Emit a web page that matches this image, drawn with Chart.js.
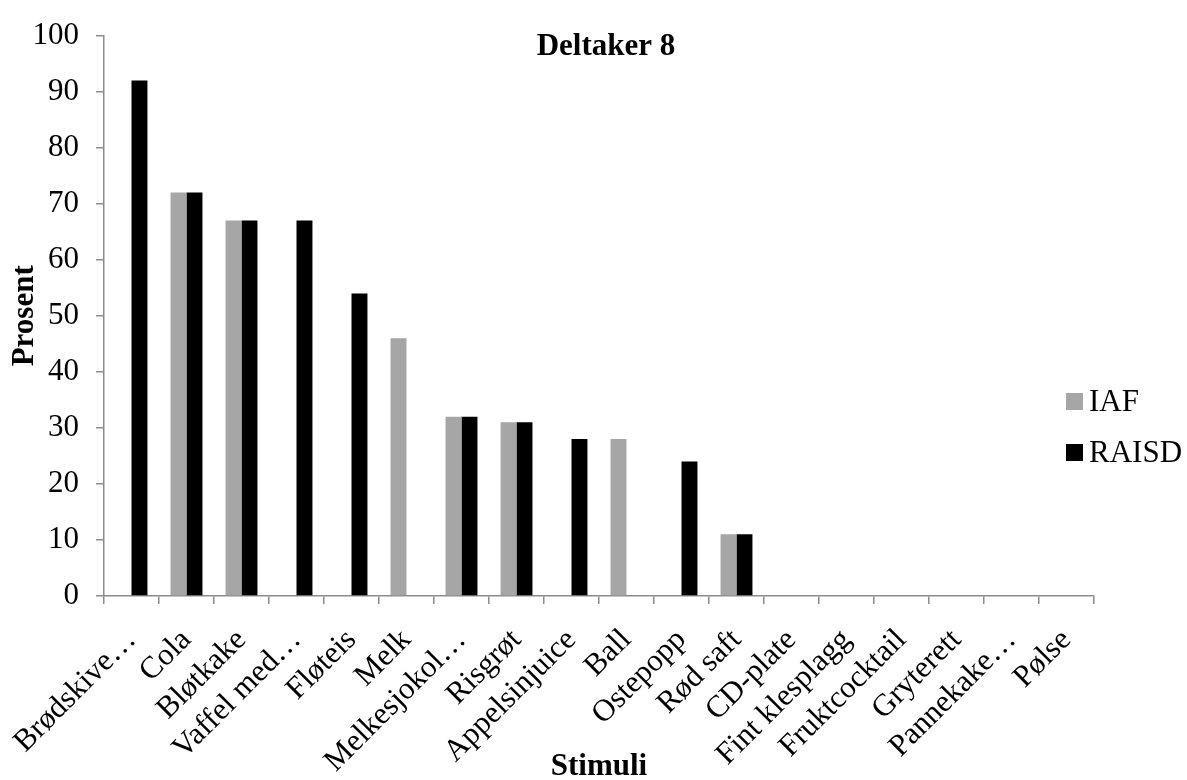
<!DOCTYPE html>
<html><head><meta charset="utf-8">
<script src="https://cdn.jsdelivr.net/npm/chart.js@4.4.0/dist/chart.umd.min.js"></script>
<style>html,body{margin:0;padding:0;background:#fff;}#wrap{width:1187px;height:780px;position:relative;}</style>
</head><body><div id="wrap"><canvas id="c"></canvas></div>
<script>
const categories = ['Brødskive…','Cola','Bløtkake','Vaffel med…','Fløteis','Melk','Melkesjokol…','Risgrøt','Appelsinjuice','Ball','Ostepopp','Rød saft','CD-plate','Fint klesplagg','Fruktcocktail','Gryterett','Pannekake…','Pølse'];
const iafValues   = [0,72,67,0,0,46,32,31,0,28,0,11,0,0,0,0,0,0];
const raisdValues = [92,72,67,67,54,0,32,31,28,0,24,11,0,0,0,0,0,0];
const seriesNames = ['IAF','RAISD'];
const yTickValues = [0,10,20,30,40,50,60,70,80,90,100];
const chartTitle = 'Deltaker 8';
const xAxisTitle = 'Stimuli';
const yAxisTitle = 'Prosent';

const FONT = '"Liberation Serif", "Times New Roman", serif';
const AXIS = '#8c8c8c';

const textPlugin = {
  id: 'textPlugin',
  afterDraw(chart) {
    const ctx = chart.ctx, ca = chart.chartArea;
    ctx.save();
    ctx.fillStyle = '#000';
    ctx.font = 'bold 31px ' + FONT;
    ctx.textAlign = 'center';
    ctx.textBaseline = 'alphabetic';
    ctx.fillText(chartTitle, 606, 55);
    ctx.fillText(xAxisTitle, (ca.left + ca.right) / 2, 775);
    ctx.save();
    ctx.translate(33, (ca.top + ca.bottom) / 2);
    ctx.rotate(-Math.PI / 2);
    ctx.fillText(yAxisTitle, 0, 0);
    ctx.restore();
    // legend
    ctx.font = '31px ' + FONT;
    ctx.textAlign = 'left';
    ctx.textBaseline = 'alphabetic';
    const rows = [410, 461];
    chart.data.datasets.forEach((ds, i) => {
      ctx.fillStyle = ds.backgroundColor;
      ctx.fillRect(1066, rows[i] - 17, 17, 17);
      ctx.fillStyle = '#000';
      ctx.fillText(ds.label, 1089, rows[i] + 1);
    });
    ctx.restore();
  }
};

new Chart(document.getElementById('c'), {
  type: 'bar',
  data: {
    labels: categories,
    datasets: [
      { label: seriesNames[0], data: iafValues, backgroundColor: '#a6a6a6', categoryPercentage: 0.58, barPercentage: 1.0 },
      { label: seriesNames[1], data: raisdValues, backgroundColor: '#000000', categoryPercentage: 0.58, barPercentage: 1.0 }
    ]
  },
  options: {
    responsive: true,
    maintainAspectRatio: false,
    animation: false,
    devicePixelRatio: 1,
    layout: { padding: { top: 25, right: 93, left: 0, bottom: 0 } },
    plugins: { legend: { display: false }, title: { display: false }, tooltip: { enabled: false } },
    scales: {
      x: {
        offset: true,
        grid: { display: true, drawOnChartArea: false, drawTicks: true, tickLength: 8, color: AXIS, lineWidth: 1.5, offset: true },
        border: { display: true, color: AXIS, width: 1.5 },
        ticks: { color: '#000', font: { family: FONT, size: 31 }, minRotation: 45, maxRotation: 45, autoSkip: false, padding: 18 },
        afterFit(scale) { scale.height = 184; scale.paddingLeft = 0; scale.paddingRight = 0; }
      },
      y: {
        min: 0, max: 100,
        grid: { display: true, drawOnChartArea: false, drawTicks: true, tickLength: 8, color: AXIS, lineWidth: 1.5 },
        border: { display: true, color: AXIS, width: 1.5 },
        ticks: { color: '#000', font: { family: FONT, size: 31 }, padding: 17 },
        afterBuildTicks(scale) { scale.ticks = yTickValues.map(v => ({ value: v })); },
        afterFit(scale) { scale.width = 104; }
      }
    }
  },
  plugins: [textPlugin]
});
</script></body></html>
